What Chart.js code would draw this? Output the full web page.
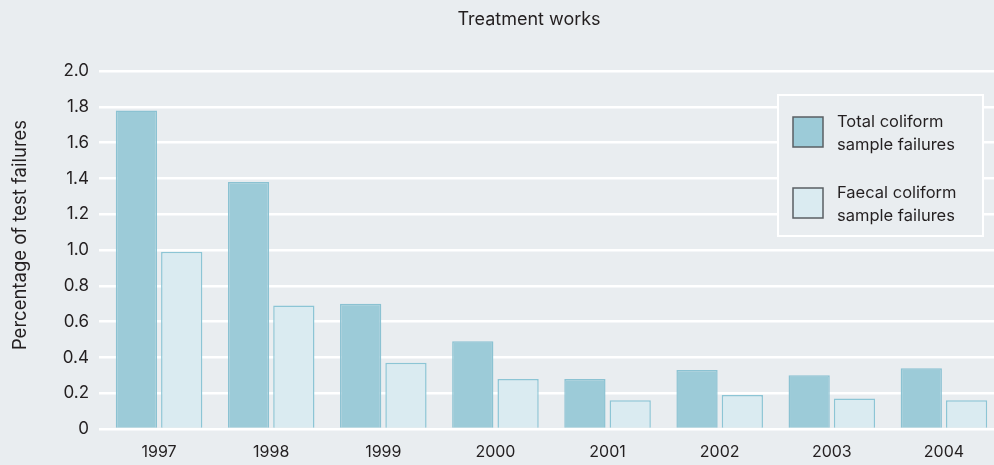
<!DOCTYPE html>
<html>
<head>
<meta charset="utf-8">
<title>Treatment works</title>
<script src="https://cdn.jsdelivr.net/npm/chart.js@4"></script>
<style>
  html, body { margin: 0; padding: 0; background: #e9edf0; overflow: hidden; }
  #wrap { width: 1000px; height: 465px; }
</style>
</head>
<body>
<div id="wrap"><canvas id="chart"></canvas></div>
<script>
const years = ['1997', '1998', '1999', '2000', '2001', '2002', '2003', '2004'];
const totalColiform = [1.78, 1.38, 0.70, 0.49, 0.28, 0.33, 0.30, 0.34];
const faecalColiform = [0.99, 0.69, 0.37, 0.28, 0.16, 0.19, 0.17, 0.16];
const yTickLabels = ['0', '0.2', '0.4', '0.6', '0.8', '1.0', '1.2', '1.4', '1.6', '1.8', '2.0'];
const legendLabels = [['Total coliform', 'sample failures'], ['Faecal coliform', 'sample failures']];

const FONT = 'Inter, "Liberation Sans", Arial, sans-serif';
const TEXT = '#231f20';
const BG = '#e9edf0';

// heading, axis caption and the boxed legend are drawn by hand
const extras = {
  id: 'extras',
  afterDraw(chart) {
    const ctx = chart.ctx;
    ctx.save();
    ctx.fillStyle = TEXT;
    ctx.font = '18px ' + FONT;
    ctx.textAlign = 'center';
    ctx.textBaseline = 'alphabetic';
    ctx.fillText('Treatment works', 529, 25);

    ctx.save();
    ctx.translate(26, 235);
    ctx.rotate(-Math.PI / 2);
    ctx.font = '18.5px ' + FONT;
    ctx.fillText('Percentage of test failures', 0, 0);
    ctx.restore();

    // legend box
    ctx.fillStyle = BG;
    ctx.fillRect(778, 95, 205, 141);
    ctx.strokeStyle = '#ffffff';
    ctx.lineWidth = 2;
    ctx.strokeRect(778, 95, 205, 141);

    const fills = [chart.data.datasets[0].backgroundColor, chart.data.datasets[1].backgroundColor];
    [117, 188].forEach((top, i) => {
      ctx.fillStyle = fills[i];
      ctx.fillRect(793, top, 30, 30);
      ctx.strokeStyle = '#5a5f63';
      ctx.lineWidth = 1.5;
      ctx.strokeRect(793, top, 30, 30);
      ctx.fillStyle = TEXT;
      ctx.font = '16.5px ' + FONT;
      ctx.textAlign = 'left';
      ctx.fillText(legendLabels[i][0], 837, top + 10);
      ctx.fillText(legendLabels[i][1], 837, top + 33);
    });
    ctx.restore();
  }
};

new Chart(document.getElementById('chart'), {
  type: 'bar',
  data: {
    labels: years,
    datasets: [
      {
        label: legendLabels[0].join(' '),
        data: totalColiform,
        backgroundColor: '#9ccbd8',
        borderColor: '#8bc2d2',
        borderWidth: 1.5
      },
      {
        label: legendLabels[1].join(' '),
        data: faecalColiform,
        backgroundColor: '#daebf1',
        borderColor: '#8cc5d5',
        borderWidth: 1.5
      }
    ]
  },
  options: {
    responsive: true,
    maintainAspectRatio: false,
    animation: false,
    categoryPercentage: 0.808,
    barPercentage: 0.911,
    layout: { padding: { top: 71, bottom: 0, left: 0, right: 0 } },
    plugins: {
      legend: { display: false },
      title: { display: false },
      tooltip: { enabled: false }
    },
    scales: {
      x: {
        grid: { display: false, drawTicks: false },
        border: { display: false },
        ticks: { color: TEXT, font: { family: FONT, size: 16 }, padding: 14 },
        afterFit: (s) => { s.height = 36; }
      },
      y: {
        min: 0,
        max: 2.0,
        grid: { color: '#ffffff', lineWidth: 2.5, drawTicks: true, tickLength: 4 },
        border: { display: false },
        ticks: {
          stepSize: 0.2,
          color: TEXT,
          font: { family: FONT, size: 17 },
          padding: 10,
          callback: (v, i) => yTickLabels[i]
        },
        afterFit: (s) => { s.width = 103; }
      }
    }
  },
  plugins: [extras]
});
</script>
</body>
</html>
